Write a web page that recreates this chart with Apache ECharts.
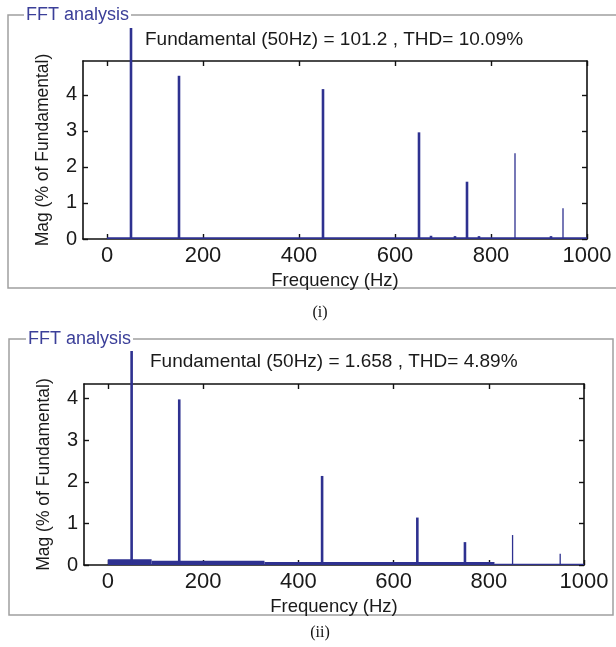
<!DOCTYPE html>
<html>
<head>
<meta charset="utf-8">
<script src="https://cdn.jsdelivr.net/npm/echarts@6/dist/echarts.min.js"></script>
<style>
html,body{margin:0;padding:0;background:#fff;}
#c{width:616px;height:647px;}
</style>
</head>
<body>
<div id="c"></div>
<script>
// ---- Data ----
const title1 = 'Fundamental (50Hz) = 101.2 , THD= 10.09%';
const title2 = 'Fundamental (50Hz) = 1.658 , THD= 4.89%';
const xTicks = [0, 200, 400, 600, 800, 1000];
const yTicks = [0, 1, 2, 3, 4];

// Panel (i) harmonic spectrum (% of fundamental)
const freq1 = [50, 150, 450, 650, 675, 725, 750, 775, 850, 925, 950];
const mag1  = [100, 4.53, 4.16, 2.96, 0.09, 0.08, 1.59, 0.08, 2.38, 0.08, 0.85];
const floorFreq1 = [0, 1000];
const floorMag1  = [0.05, 0.05];

// Panel (ii) harmonic spectrum (% of fundamental)
const freq2 = [50, 150, 450, 650, 750, 850, 950];
const mag2  = [100, 3.98, 2.14, 1.14, 0.55, 0.72, 0.27];
const floorFreq2 = [0, 92, 329, 812, 1000];
const floorMag2  = [0.14, 0.10, 0.07, 0.03, 0.03];

// ---- Styling ----
const BAR = '#2e3190';
const FONT = '"Liberation Sans", Arial, sans-serif';
const TXT = '#1a1a1a';
const thinFreqs = [850, 950];

const chart = echarts.init(document.getElementById('c'), null, {renderer: 'canvas'});

function renderSpike(params, api) {
  const x = api.value(0), v = api.value(1);
  const p0 = api.coord([x, 0]);
  const p1 = api.coord([x, v]);
  const topLimit = params.coordSys.y - 33;
  const y2 = Math.max(p1[1], topLimit);
  const w = thinFreqs.indexOf(x) >= 0 ? 1.3 : 2.6;
  return {
    type: 'line',
    shape: {x1: p0[0], y1: p0[1], x2: p0[0], y2: y2},
    style: {stroke: BAR, lineWidth: w}
  };
}
// floor segments: each value holds from its frequency to the next one
function renderFloor(params, api) {
  const x0 = api.value(0), x1 = api.value(1), v = api.value(2);
  const a = api.coord([x0, v]);
  const b = api.coord([x1, 0]);
  return {
    type: 'rect',
    shape: {x: a[0], y: a[1], width: b[0] - a[0], height: b[1] - a[1]},
    style: {fill: BAR}
  };
}
function floorData(fs, ms) {
  const out = [];
  for (let i = 0; i < fs.length - 1; i++) out.push([fs[i], fs[i + 1], ms[i]]);
  return out;
}

function xAxisDef(gi, pos, show) {
  return {
    type: 'value', gridIndex: gi, position: pos, min: -50, max: 1000,
    axisLine: {show: true, onZero: false, lineStyle: {color: '#111', width: 1.6}},
    axisTick: {show: true, inside: true, length: 5, customValues: xTicks, lineStyle: {color: '#111', width: 1.4}},
    axisLabel: {show: show, customValues: xTicks, fontSize: 22, color: TXT, fontFamily: FONT, margin: 6,
                formatter: v => String(v)},
    splitLine: {show: false},
    name: show ? 'Frequency (Hz)' : '', nameLocation: 'middle', nameGap: 32,
    nameTextStyle: {fontSize: 18.5, color: TXT, fontFamily: FONT}
  };
}
function yAxisDef(gi, pos, show, max) {
  return {
    type: 'value', gridIndex: gi, position: pos, min: 0, max: max,
    axisLine: {show: true, onZero: false, lineStyle: {color: '#111', width: 1.6}},
    axisTick: {show: true, inside: true, length: 5, customValues: yTicks, lineStyle: {color: '#111', width: 1.4}},
    axisLabel: {show: show, customValues: yTicks, fontSize: 20, color: TXT, fontFamily: FONT, margin: 6},
    splitLine: {show: false},
    name: show ? 'Mag (% of Fundamental)' : '', nameLocation: 'middle', nameGap: 31,
    nameTextStyle: {fontSize: 17.5, color: TXT, fontFamily: FONT}
  };
}

function boxGraphic(x, y, w, h, labelX, labelY) {
  return [
    {type: 'rect', shape: {x: x, y: y, width: w, height: h},
     style: {fill: 'none', stroke: '#a0a0a0', lineWidth: 1.5}, z: 0},
    {type: 'text', x: labelX, y: labelY,
     style: {text: 'FFT analysis', fill: '#3b3f99', font: '18px ' + FONT,
             backgroundColor: '#fff', padding: [0, 2], verticalAlign: 'middle'}, z: 1}
  ];
}

const option = {
  animation: false,
  backgroundColor: '#fff',
  grid: [
    {left: 83, top: 61, width: 504, height: 178, containLabel: false},
    {left: 84, top: 384, width: 500, height: 181, containLabel: false}
  ],
  title: [
    {text: title1, left: 145, top: 30, textStyle: {fontSize: 19, fontWeight: 'normal', color: TXT, fontFamily: FONT}, padding: 0},
    {text: title2, left: 150, top: 352, textStyle: {fontSize: 19, fontWeight: 'normal', color: TXT, fontFamily: FONT}, padding: 0}
  ],
  xAxis: [xAxisDef(0, 'bottom', true), xAxisDef(0, 'top', false), xAxisDef(1, 'bottom', true), xAxisDef(1, 'top', false)],
  yAxis: [yAxisDef(0, 'left', true, 4.94), yAxisDef(0, 'right', false, 4.94), yAxisDef(1, 'left', true, 4.35), yAxisDef(1, 'right', false, 4.35)],
  graphic: [].concat(
    boxGraphic(8, 15, 640, 273, 24, 15),
    boxGraphic(9, 339, 604, 276, 26, 339),
    [
      {type: 'text', x: 320, y: 313, style: {text: '(i)', font: '16px "Liberation Serif", "Times New Roman", serif', fill: '#111', align: 'center', verticalAlign: 'middle'}},
      {type: 'text', x: 320, y: 633, style: {text: '(ii)', font: '16px "Liberation Serif", "Times New Roman", serif', fill: '#111', align: 'center', verticalAlign: 'middle'}}
    ]
  ),
  series: [
    {type: 'custom', xAxisIndex: 0, yAxisIndex: 0, renderItem: renderFloor,
     data: floorData(floorFreq1, floorMag1), z: 3},
    {type: 'custom', xAxisIndex: 0, yAxisIndex: 0, renderItem: renderSpike,
     data: freq1.map((f, i) => [f, mag1[i]]), z: 4},
    {type: 'custom', xAxisIndex: 2, yAxisIndex: 2, renderItem: renderFloor,
     data: floorData(floorFreq2, floorMag2), z: 3},
    {type: 'custom', xAxisIndex: 2, yAxisIndex: 2, renderItem: renderSpike,
     data: freq2.map((f, i) => [f, mag2[i]]), z: 4}
  ]
};
chart.setOption(option);
</script>
</body>
</html>
